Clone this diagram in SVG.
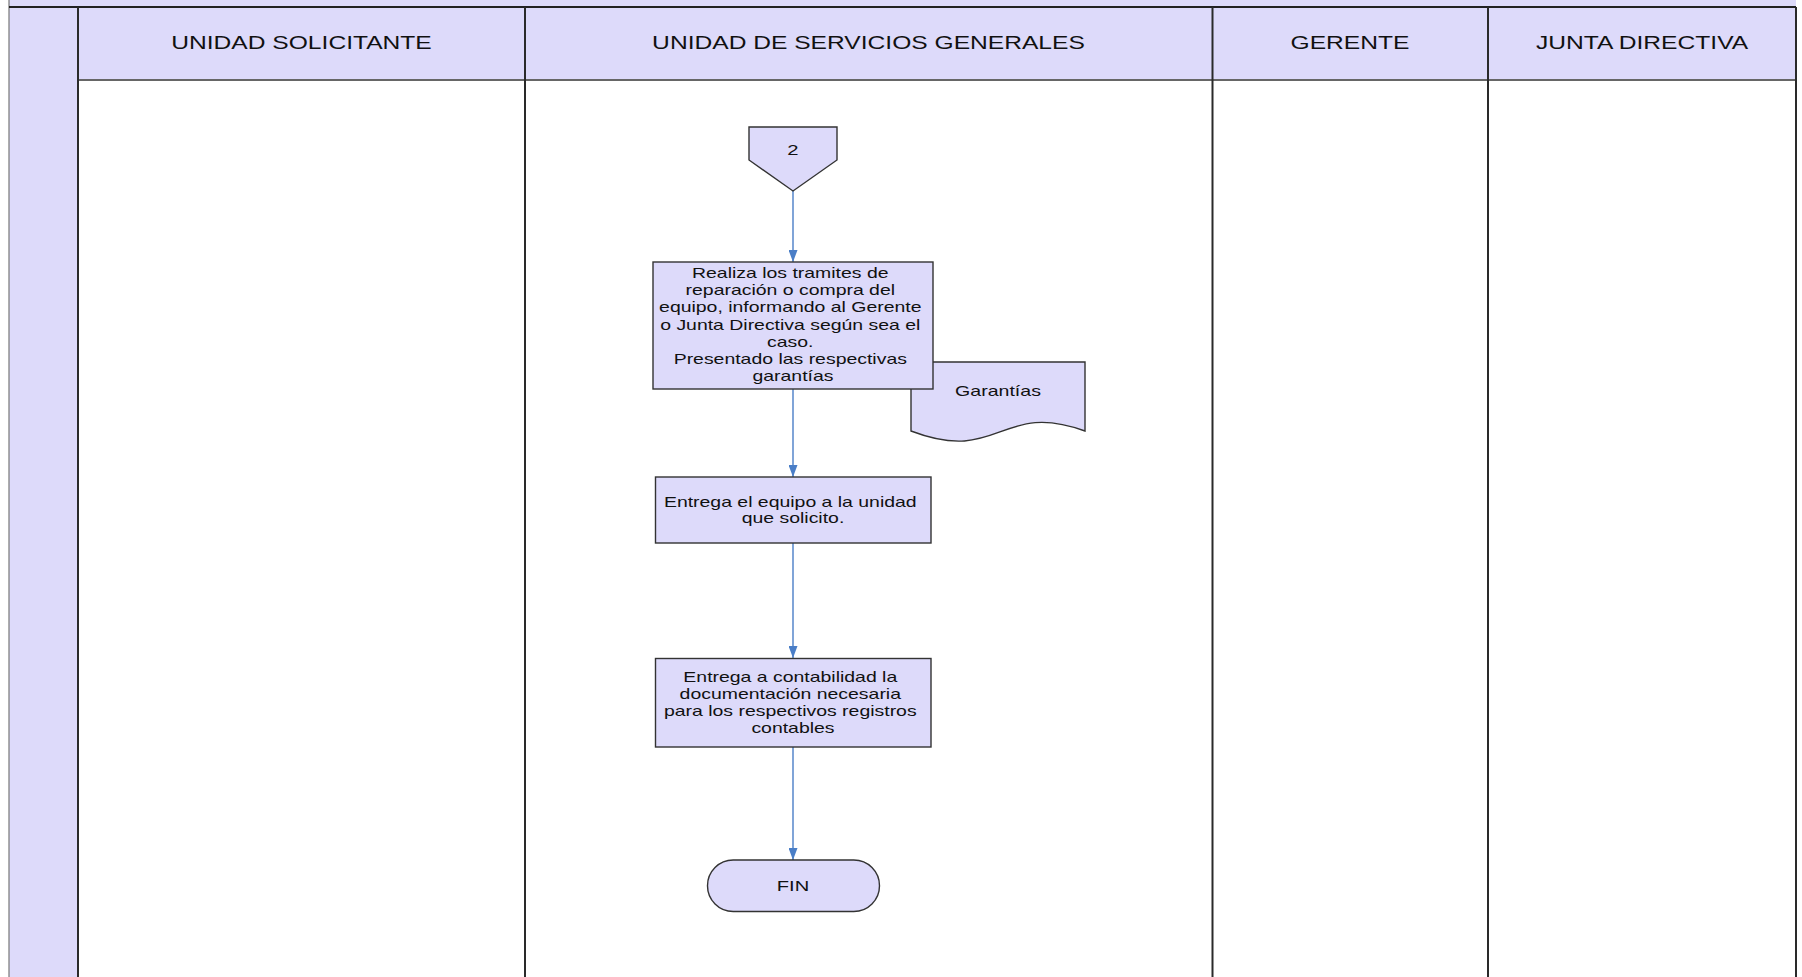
<svg xmlns="http://www.w3.org/2000/svg" width="1802" height="977" viewBox="0 0 1802 977">
<style>
  .lav{fill:#DDDAFA}
  .shape{fill:#DDDAFA;stroke:#333;stroke-width:1.4}
  .lane{stroke:#2a2a2a;stroke-width:2;fill:none}
  .hdr{font-family:"Liberation Sans",Arial,sans-serif;font-size:17.9px;fill:#111;text-anchor:middle}
  .t{font-family:"Liberation Sans",Arial,sans-serif;font-size:14.4px;fill:#111;text-anchor:middle}
  .conn{stroke:#4A7EC7;stroke-width:1.4;fill:none;marker-end:url(#arr)}
</style>
<defs>
  <marker id="arr" viewBox="0 0 12 9" refX="12" refY="4.5" markerWidth="12" markerHeight="9" markerUnits="userSpaceOnUse" orient="auto">
    <path d="M0,0 L12,4.5 L0,9 Z" fill="#4A7EC7"/>
  </marker>
</defs>
<rect width="1802" height="977" fill="#fff"/>
<g id="pool">
  <rect class="lav" x="9" y="0" width="1787" height="7"/>
  <rect class="lav" x="9" y="7" width="69" height="970"/>
  <rect class="lav" x="78" y="7" width="1718" height="73"/>
  <line x1="9" y1="0" x2="9" y2="977" stroke="#777" stroke-width="1.2"/>
  <line x1="9" y1="7" x2="1796" y2="7" stroke="#222" stroke-width="2"/>
  <line x1="78" y1="80" x2="1796" y2="80" stroke="#666" stroke-width="2"/>
  <line class="lane" x1="78" y1="7" x2="78" y2="977"/>
  <line class="lane" x1="525" y1="7" x2="525" y2="977"/>
  <line class="lane" x1="1212.5" y1="7" x2="1212.5" y2="977"/>
  <line class="lane" x1="1488" y1="7" x2="1488" y2="977"/>
  <line class="lane" x1="1796" y1="7" x2="1796" y2="977"/>
</g>
<g id="lane-headers">
  <text class="hdr" x="301.5" y="49.3" transform="matrix(1.375 0 0 1 -113.06 0)">UNIDAD SOLICITANTE</text>
  <text class="hdr" x="868.5" y="49.3" transform="matrix(1.375 0 0 1 -325.69 0)">UNIDAD DE SERVICIOS GENERALES</text>
  <text class="hdr" x="1350" y="49.3" transform="matrix(1.375 0 0 1 -506.25 0)">GERENTE</text>
  <text class="hdr" x="1642" y="49.3" transform="matrix(1.375 0 0 1 -615.75 0)">JUNTA DIRECTIVA</text>
</g>
<g id="connectors">
  <line class="conn" x1="793" y1="191" x2="793" y2="262"/>
  <line class="conn" x1="793" y1="389" x2="793" y2="477"/>
  <line class="conn" x1="793" y1="543" x2="793" y2="658"/>
  <line class="conn" x1="793" y1="747" x2="793" y2="860"/>
</g>
<g id="connector-2">
  <polygon class="shape" points="749,127 837,127 837,160 793,191 749,160"/>
  <text class="t" x="793" y="155.5" style="font-size:15px" transform="matrix(1.35 0 0 1 -277.55 0)">2</text>
</g>
<g id="doc-garantias">
  <path class="shape" d="M911,362 H1085 V431 C1000,400 1000,465 911,431 Z"/>
  <text class="t" x="998" y="396" style="font-size:14.6px" transform="matrix(1.34 0 0 1 -339.32 0)">Garantías</text>
</g>
<g id="task-tramites">
  <rect class="shape" x="653" y="262" width="280" height="127"/>
  <text class="t" transform="matrix(1.35 0 0 1 -277.55 0)">
    <tspan x="793" y="277.7">Realiza los tramites de</tspan>
    <tspan x="793" y="295">reparación o compra del</tspan>
    <tspan x="793" y="312.3">equipo, informando al Gerente</tspan>
    <tspan x="793" y="329.6">o Junta Directiva según sea el</tspan>
    <tspan x="793" y="346.9">caso.</tspan>
    <tspan x="793" y="364.2">Presentado las respectivas</tspan>
    <tspan x="793" y="381.5">garantías</tspan>
  </text>
</g>
<g id="task-entrega-equipo">
  <rect class="shape" x="655.5" y="477" width="275.5" height="66"/>
  <text class="t" transform="matrix(1.35 0 0 1 -277.55 0)">
    <tspan x="793" y="506.7">Entrega el equipo a la unidad</tspan>
    <tspan x="793" y="523.5">que solicito.</tspan>
  </text>
</g>
<g id="task-contabilidad">
  <rect class="shape" x="655.5" y="658.5" width="275.5" height="88.5"/>
  <text class="t" transform="matrix(1.35 0 0 1 -277.55 0)">
    <tspan x="793" y="681.7">Entrega a contabilidad la</tspan>
    <tspan x="793" y="699">documentación necesaria</tspan>
    <tspan x="793" y="716">para los respectivos registros</tspan>
    <tspan x="793" y="732.7">contables</tspan>
  </text>
</g>
<g id="fin">
  <rect class="shape" x="707.5" y="860" width="172" height="51.5" rx="25.7" ry="25.7"/>
  <text class="t" x="793" y="890.7" style="font-size:14.9px" transform="matrix(1.35 0 0 1 -277.55 0)">FIN</text>
</g>
</svg>
